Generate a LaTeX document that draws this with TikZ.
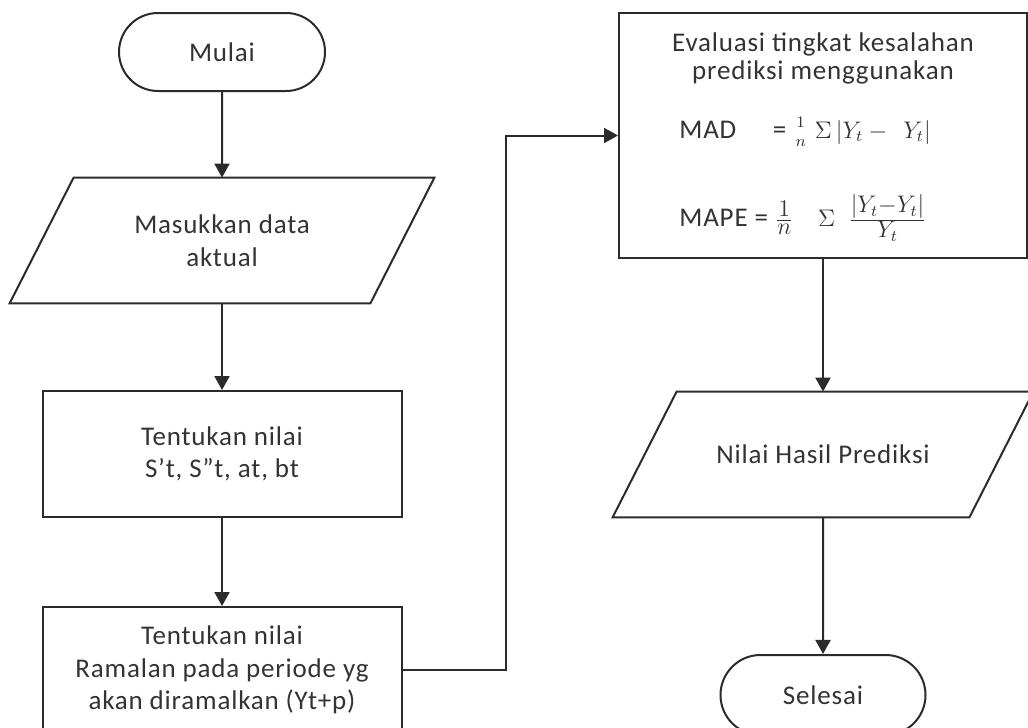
\documentclass[tikz,border=0pt]{standalone}
\usepackage{amsmath}
\usepackage{fontspec}
\setmainfont{Carlito}[LetterSpace=3]
\DeclareMathSizes{13.5}{13}{12}{8}
\usetikzlibrary{shapes.misc,arrows.meta,calc}
\definecolor{ink}{HTML}{2B2B2B}
\definecolor{txt}{HTML}{333333}
% small subscript t for the error terms
\newcommand{\Yt}{Y_{\scriptscriptstyle t}}
\begin{document}
\begin{tikzpicture}[x=0.5pt,y=-0.5pt,
  font=\fontsize{13.5}{16.3}\selectfont, text=txt,
  strk/.style={draw=ink, line width=1pt},
  arr/.style={strk, -{Triangle[length=7pt,width=7.5pt]}},
  term/.style={strk, rounded rectangle, minimum width=103pt, minimum height=39pt, inner sep=0pt},
  proc/.style={strk, rectangle, minimum width=179.5pt, minimum height=63pt, align=center, inner sep=0pt},
  iobox/.style={rectangle, minimum width=180pt, minimum height=62.5pt, align=center, inner sep=0pt},
]
\clip (0,0) rectangle (1028,728);

% left column
\node[term] (start) at (222,52) {Mulai};
\node[iobox] (p1) at (222,240.5) {Masukkan data\\aktual};
\draw[strk] ([xshift=16pt]p1.north west) -- ([xshift=16pt]p1.north east)
  -- ([xshift=-16pt]p1.south east) -- ([xshift=-16pt]p1.south west) -- cycle;
\node[proc] (r2) at (222,454) {Tentukan nilai\\S’t, S”t, at, bt};
\node[proc] (r3) at (222,670) {Tentukan nilai\\Ramalan pada periode yg\\akan diramalkan (Yt+p)};

% right column
\node[strk, rectangle, minimum width=204pt, minimum height=122.5pt, inner sep=0pt] (ev) at (823,135.5) {};
\node[align=center, font=\fontsize{13.5}{13.6}\selectfont] (evt) at (823,58.5)
  {Evaluasi tingkat kesalahan\\prediksi menggunakan};
\node[anchor=base west, inner sep=0pt] (mad) at (679,138)
  {MAD\hspace{1.35em}= $\genfrac{}{}{0pt}{2}{1}{n}\;\Sigma\,|\Yt -\;\, \Yt|$};
\node[anchor=base west, inner sep=0pt] (mape) at (679,226)
  {MAPE = $\frac{1}{n}\hspace{0.9em}\Sigma\;\;\frac{|Y_t - Y_t|}{Y_t}$};
\node[iobox, minimum width=178pt] (p2) at (823,454.5) {Nilai Hasil Prediksi};
\draw[strk] ([xshift=16pt]p2.north west) -- ([xshift=16pt]p2.north east)
  -- ([xshift=-16pt]p2.south east) -- ([xshift=-16pt]p2.south west) -- cycle;
\node[term, minimum width=102.5pt, minimum height=40pt] (end) at (823,695) {Selesai};

% connectors
\draw[arr] (start) -- (p1);
\draw[arr] (p1) -- (r2);
\draw[arr] (r2) -- (r3);
\draw[arr] (r3.east) -- ++(103,0) |- (ev.west);
\draw[arr] (ev) -- (p2);
\draw[arr] (p2) -- (end);
\end{tikzpicture}
\end{document}
